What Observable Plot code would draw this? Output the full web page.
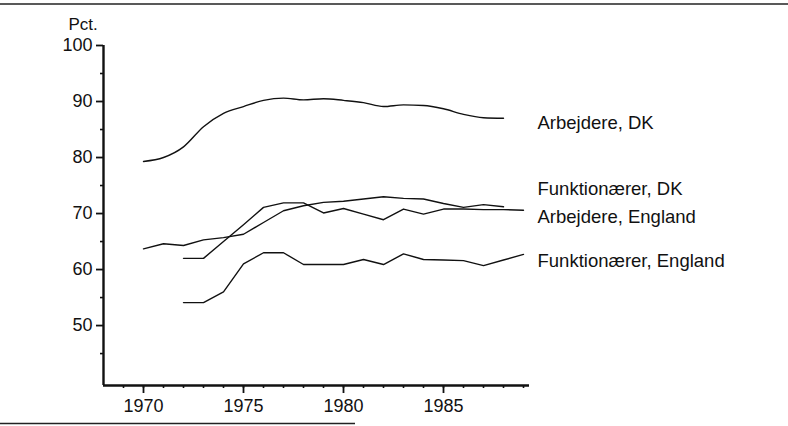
<!DOCTYPE html>
<html>
<head>
<meta charset="utf-8">
<script src="https://cdn.jsdelivr.net/npm/d3@7"></script>
<script src="https://cdn.jsdelivr.net/npm/@observablehq/plot@0.6"></script>
<style>
  html, body { margin: 0; padding: 0; background: #fff; }
  #chart { position: relative; width: 788px; height: 426px; }
</style>
</head>
<body>
<div id="chart"></div>
<script>
const years7088 = [1970,1971,1972,1973,1974,1975,1976,1977,1978,1979,1980,1981,1982,1983,1984,1985,1986,1987,1988];
const years7289 = [1972,1973,1974,1975,1976,1977,1978,1979,1980,1981,1982,1983,1984,1985,1986,1987,1988,1989];

const arbejdereDK      = [79.3,80.0,81.9,85.5,87.9,89.1,90.2,90.6,90.3,90.5,90.2,89.8,89.1,89.4,89.3,88.7,87.7,87.1,87.0];
const funktionaererDK  = [63.7,64.6,64.3,65.3,65.7,66.3,68.4,70.5,71.4,72.0,72.2,72.6,73.0,72.7,72.6,71.8,71.1,71.6,71.2];
const arbejdereEng     = [62.0,62.0,65.0,68.0,71.1,71.9,71.9,70.1,70.9,69.9,68.9,70.8,69.9,70.8,70.8,70.7,70.7,70.6];
const funktionaererEng = [54.1,54.1,56.0,61.0,63.0,63.0,60.9,60.9,60.9,61.8,60.9,62.8,61.8,61.7,61.6,60.7,61.7,62.7];

const seriesNames = ["Arbejdere, DK", "Funktionærer, DK", "Arbejdere, England", "Funktionærer, England"];
const labelY = [86.2, 74.4, 69.3, 61.6];

const yMajor = [50,60,70,80,90,100];
const yMinor = [45,55,65,75,85,95];
const xMajor = [1970,1975,1980,1985];
const xMinor = d3.range(1969, 1990);

const toRows = (years, vals) => years.map((year, i) => ({year, value: vals[i]}));
const rowsArbDK = toRows(years7088, arbejdereDK);
const rowsFunkDK = toRows(years7088, funktionaererDK);
const rowsArbEng = toRows(years7289, arbejdereEng);
const rowsFunkEng = toRows(years7289, funktionaererEng);
const labels = seriesNames.map((name, i) => ({name, y: labelY[i]}));

const font = "'Liberation Sans', Arial, Helvetica, sans-serif";

const plot = Plot.plot({
  width: 788,
  height: 426,
  marginLeft: 103,
  marginRight: 259,
  marginTop: 45,
  marginBottom: 41,
  style: { fontFamily: font, background: "#fff", color: "#111" },
  x: { domain: [1968, 1989.3], axis: null },
  y: { domain: [39.3, 100], axis: null },
  marks: [
    // minor ticks
    Plot.axisY({ticks: yMinor, tickSize: 3, tickFormat: null, text: null, strokeWidth: 1.6, label: null}),
    Plot.axisX({ticks: xMinor, tickSize: 3, tickFormat: null, text: null, strokeWidth: 1.6, label: null}),
    // major ticks with labels
    Plot.axisY({ticks: yMajor, tickSize: 7, tickPadding: 4, tickFormat: "d", fontSize: 18, strokeWidth: 1.8, label: null}),
    Plot.axisX({ticks: xMajor, tickSize: 8, tickPadding: 6, tickFormat: "d", fontSize: 18, strokeWidth: 1.8, label: null}),
    // axis lines
    Plot.ruleX([1968], {y1: 39.3, y2: 100, strokeWidth: 2.4, stroke: "#111"}),
    Plot.ruleY([39.3], {x1: 1968, x2: 1989.3, strokeWidth: 2.4, stroke: "#111"}),
    // series
    Plot.line(rowsArbDK, {x: "year", y: "value", stroke: "#111", strokeWidth: 1.4, curve: "monotone-x"}),
    Plot.line(rowsFunkDK, {x: "year", y: "value", stroke: "#111", strokeWidth: 1.4}),
    Plot.line(rowsArbEng, {x: "year", y: "value", stroke: "#111", strokeWidth: 1.4}),
    Plot.line(rowsFunkEng, {x: "year", y: "value", stroke: "#111", strokeWidth: 1.4}),
    // labels
    Plot.text(labels, {x: () => 1989.7, y: "y", text: "name", textAnchor: "start", fontSize: 18.5, fill: "#111", clip: false}),
    Plot.text(["Pct."], {x: () => 1968, y: () => 100, text: d => d, textAnchor: "start", dx: -35, dy: -21, fontSize: 17, fill: "#111"})
  ]
});

document.getElementById("chart").appendChild(plot);

// decorative page rules (top and bottom)
const svg = d3.select(plot);
svg.append("line").attr("x1", 0).attr("x2", 788).attr("y1", 4).attr("y2", 4)
  .attr("stroke", "#222").attr("stroke-width", 1.3);
svg.append("line").attr("x1", 0).attr("x2", 355).attr("y1", 423.5).attr("y2", 423.5)
  .attr("stroke", "#222").attr("stroke-width", 1.3);
</script>
</body>
</html>
